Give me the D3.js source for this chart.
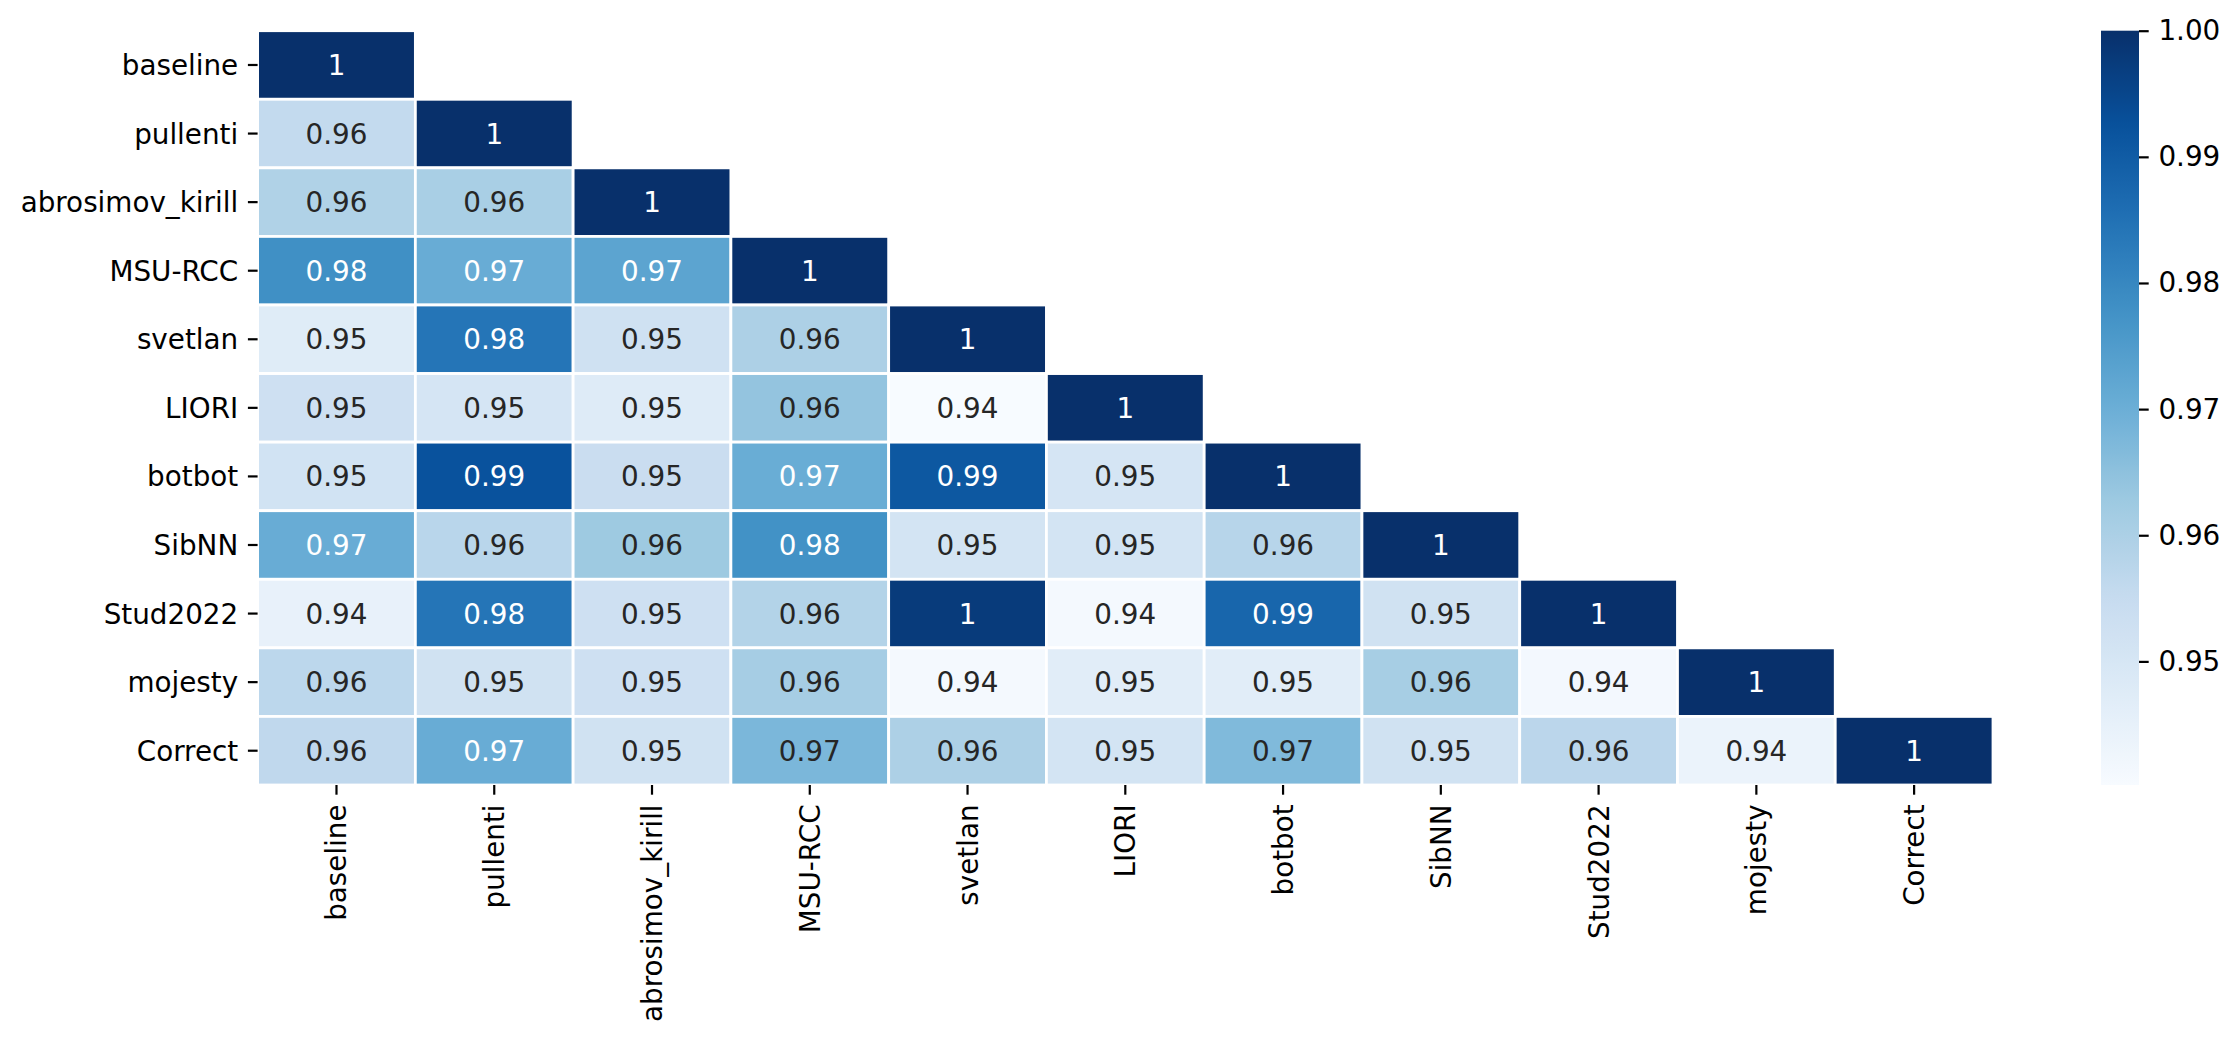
<!DOCTYPE html>
<html>
<head>
<meta charset="utf-8">
<script src="https://cdn.jsdelivr.net/npm/d3@7"></script>
<style>
  body { margin: 0; background: #fff; }
  text { font-family: "DejaVu Sans", sans-serif; }
</style>
</head>
<body>
<div id="chart"></div>
<script>
// labels for both axes
const names = ['baseline', 'pullenti', 'abrosimov_kirill', 'MSU-RCC', 'svetlan', 'LIORI',
  'botbot', 'SibNN', 'Stud2022', 'mojesty', 'Correct']

// lower triangle of the similarity matrix
const values = [
  [1],
  [0.9558, 1],
  [0.9593, 0.9605, 1],
  [0.9780, 0.9707, 0.9728, 1],
  [0.9474, 0.9842, 0.9522, 0.9599, 1],
  [0.9528, 0.9504, 0.9477, 0.9641, 0.9402, 1],
  [0.9516, 0.9922, 0.9540, 0.9704, 0.9910, 0.9504, 1],
  [0.9707, 0.9575, 0.9626, 0.9776, 0.9510, 0.9510, 0.9580, 1],
  [0.9448, 0.9842, 0.9528, 0.9587, 0.9976, 0.9410, 0.9876, 0.9520, 1],
  [0.9570, 0.9520, 0.9528, 0.9611, 0.9412, 0.9468, 0.9468, 0.9610, 0.9415, 1],
  [0.9563, 0.9707, 0.9520, 0.9677, 0.9599, 0.9510, 0.9670, 0.9520, 0.9572, 0.9438, 1]
]

const cbarTicks = [0.95, 0.96, 0.97, 0.98, 0.99, 1.00]

// Canvas
const width = 2240,
  height = 1042,
  plotLeft = 257.6,
  plotRight = 1993,
  plotTop = 30.7,
  plotBottom = 785,
  fontSize = 27.8,
  tickLen = 9.7,
  tickPad = 9.7

let svg = d3.select('#chart')
  .append('svg')
  .attr('width', width)
  .attr('height', height)

// matplotlib "Blues" anchors, linear between them
const blues = ['#f7fbff', '#deebf7', '#c6dbef', '#9ecae1', '#6baed6', '#4292c6', '#2171b5', '#08519c', '#08306b']
const interp = d3.piecewise(d3.interpolateRgb, blues)

let cells = []
values.forEach((row, i) => {
  row.forEach((v, j) => cells.push({ row: names[i], col: names[j], v: v }))
})

const vmin = d3.min(cells, d => d.v),
  vmax = d3.max(cells, d => d.v)

const color = d3.scaleSequential(interp).domain([vmin, vmax])

const x = d3.scaleBand().domain(names).range([plotLeft, plotRight])
const y = d3.scaleBand().domain(names).range([plotTop, plotBottom])

// seaborn picks text colour from luminance
let luminance = (c) => {
  let rgb = d3.rgb(c)
  let lin = [rgb.r, rgb.g, rgb.b].map(u => {
    u = u / 255
    return u <= 0.03928 ? u / 12.92 : Math.pow((u + 0.055) / 1.055, 2.4)
  })
  return 0.2126 * lin[0] + 0.7152 * lin[1] + 0.0722 * lin[2]
}

const fmt = d3.format('.2')

svg.selectAll('rect.cell')
  .data(cells)
  .enter()
  .append('rect')
  .attr('class', 'cell')
  .attr('x', d => x(d.col))
  .attr('y', d => y(d.row))
  .attr('width', x.bandwidth())
  .attr('height', y.bandwidth())
  .attr('fill', d => color(d.v))
  .attr('stroke', '#fff')
  .attr('stroke-width', 2.8)

svg.selectAll('text.annot')
  .data(cells)
  .enter()
  .append('text')
  .attr('class', 'annot')
  .attr('x', d => x(d.col) + x.bandwidth() / 2)
  .attr('y', d => y(d.row) + y.bandwidth() / 2)
  .attr('dy', '0.36em')
  .attr('text-anchor', 'middle')
  .attr('font-size', fontSize)
  .attr('fill', d => luminance(color(d.v)) > 0.408 ? '#262626' : '#ffffff')
  .text(d => fmt(d.v))

// y axis
let yAxis = svg.append('g')
yAxis.selectAll('line')
  .data(names)
  .enter()
  .append('line')
  .attr('x1', plotLeft - tickLen)
  .attr('x2', plotLeft)
  .attr('y1', d => y(d) + y.bandwidth() / 2)
  .attr('y2', d => y(d) + y.bandwidth() / 2)
  .attr('stroke', '#000')
  .attr('stroke-width', 2.2)
yAxis.selectAll('text')
  .data(names)
  .enter()
  .append('text')
  .attr('x', plotLeft - tickLen - tickPad)
  .attr('y', d => y(d) + y.bandwidth() / 2)
  .attr('dy', '0.36em')
  .attr('text-anchor', 'end')
  .attr('font-size', fontSize)
  .text(d => d)

// x axis, labels turned 90 degrees
let xAxis = svg.append('g')
xAxis.selectAll('line')
  .data(names)
  .enter()
  .append('line')
  .attr('x1', d => x(d) + x.bandwidth() / 2)
  .attr('x2', d => x(d) + x.bandwidth() / 2)
  .attr('y1', plotBottom)
  .attr('y2', plotBottom + tickLen)
  .attr('stroke', '#000')
  .attr('stroke-width', 2.2)
xAxis.selectAll('text')
  .data(names)
  .enter()
  .append('text')
  .attr('transform', d => `translate(${x(d) + x.bandwidth() / 2},${plotBottom + tickLen + tickPad}) rotate(-90)`)
  .attr('dy', '0.36em')
  .attr('text-anchor', 'end')
  .attr('font-size', fontSize)
  .text(d => d)

// colorbar
const cbLeft = 2101,
  cbRight = 2139

const cbScale = d3.scaleLinear().domain([vmin, vmax]).range([plotBottom, plotTop])

let defs = svg.append('defs')
let grad = defs.append('linearGradient')
  .attr('id', 'cbar')
  .attr('x1', 0).attr('y1', 1)
  .attr('x2', 0).attr('y2', 0)
d3.range(0, 1.0001, 0.02).forEach(t => {
  grad.append('stop')
    .attr('offset', t)
    .attr('stop-color', interp(t))
})

svg.append('rect')
  .attr('x', cbLeft)
  .attr('y', plotTop)
  .attr('width', cbRight - cbLeft)
  .attr('height', plotBottom - plotTop)
  .attr('fill', 'url(#cbar)')

let cbAxis = svg.append('g')
  .attr('transform', `translate(${cbRight},0)`)
  .call(d3.axisRight(cbScale)
    .tickValues(cbarTicks)
    .tickFormat(d3.format('.2f'))
    .tickSize(tickLen)
    .tickPadding(tickPad))
cbAxis.select('.domain').remove()
cbAxis.selectAll('line').attr('stroke', '#000').attr('stroke-width', 2.2)
cbAxis.selectAll('text')
  .attr('font-size', fontSize)
  .attr('font-family', 'DejaVu Sans')
  .attr('fill', '#000')
</script>
</body>
</html>
